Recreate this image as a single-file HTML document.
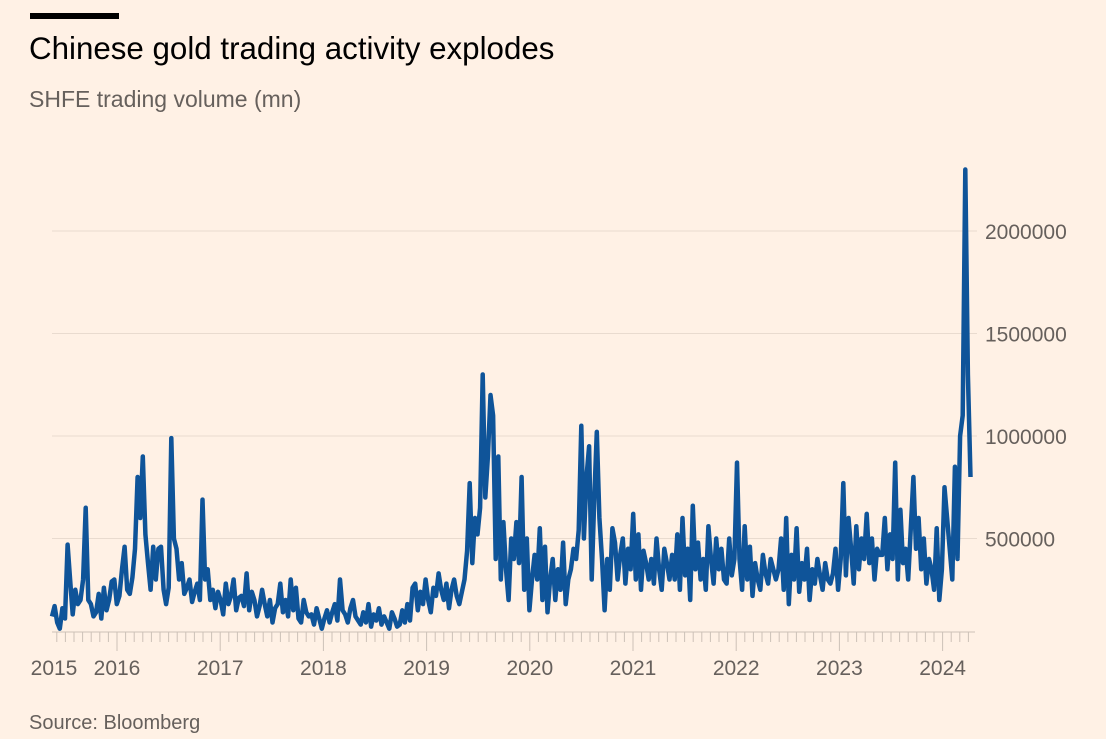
<!DOCTYPE html>
<html><head><meta charset="utf-8"><style>
body{margin:0;background:#fff1e5;font-family:"Liberation Sans",sans-serif;}
#wrap{position:relative;width:1106px;height:739px;overflow:hidden;background:#fff1e5;}
.bar{position:absolute;left:30px;top:13px;width:89px;height:6px;background:#000;}
.title{position:absolute;left:29px;top:31px;font-size:31.3px;color:#000;}
.sub{position:absolute;left:29px;top:86px;font-size:23px;color:#66605c;}
.src{position:absolute;left:29px;top:712px;font-size:20px;color:#66605c;}
</style></head><body>
<div id="wrap">
<div class="bar"></div>
<div class="title">Chinese gold trading activity explodes</div>
<div class="sub">SHFE trading volume (mn)</div>
<svg id="chart" width="1106" height="739" style="position:absolute;left:0;top:0"></svg>
<div class="src">Source: Bloomberg</div>
</div>
<script>
const values=[120,170,90,60,160,110,470,300,130,250,180,200,300,650,200,180,120,140,230,110,
260,150,200,290,300,180,220,350,460,250,230,310,450,800,600,900,520,380,250,460,
300,450,460,250,180,260,990,500,450,300,380,230,260,300,190,240,280,200,690,300,
350,200,250,160,240,200,130,280,180,220,300,150,210,220,170,330,150,240,200,120,
170,250,180,120,200,90,160,180,280,140,200,120,300,150,260,110,90,200,140,120,
130,80,160,110,60,110,150,90,140,180,100,300,150,130,90,160,200,120,100,80,
140,90,180,70,130,100,160,80,120,90,60,140,110,70,80,150,90,180,100,260,
280,150,240,180,300,200,140,260,220,330,250,200,280,160,250,300,220,180,240,300,
440,770,380,600,520,650,1300,700,900,1200,1100,400,900,300,580,350,200,500,400,580,
380,800,250,500,150,300,420,300,550,200,460,140,300,400,200,350,250,480,180,300,
350,450,400,540,1050,500,800,950,300,700,1020,600,400,150,400,250,550,480,300,420,
500,280,450,350,620,300,520,250,440,380,300,400,280,500,350,250,450,380,300,420,
300,520,250,600,320,450,200,660,350,480,300,400,250,560,400,280,500,350,450,300,
280,500,320,400,870,400,250,560,300,460,220,380,300,250,420,330,280,400,350,300,
350,500,250,600,180,420,300,550,240,380,300,450,200,350,280,400,320,250,380,300,
280,330,450,250,400,770,320,600,450,280,560,350,500,400,620,380,500,300,450,420,
420,600,350,520,400,870,300,640,380,450,300,550,800,450,600,350,500,280,400,350,
250,550,200,350,750,600,450,300,850,400,1000,1100,2300,1300,800];
const startYear=2015.37, endYear=2024.27;
const yTicks=[500000,1000000,1500000,2000000];
const yearLabels=[2015,2016,2017,2018,2019,2020,2021,2022,2023,2024];
const NS='http://www.w3.org/2000/svg';
const svg=document.getElementById('chart');
function x(t){return 117+(t-2016)*103.2;}
function y(v){return 641-v*(102.5/500000);}
function mk(tag,attrs){const e=document.createElementNS(NS,tag);for(const k in attrs)e.setAttribute(k,attrs[k]);svg.appendChild(e);return e;}
yTicks.forEach(v=>{
  const g=mk('line',{x1:52,x2:977,y1:y(v),y2:y(v),stroke:'#e9dbcf','stroke-width':1});
  
  
  const t=mk('text',{x:985,y:y(v)+8,'text-anchor':'start','font-size':21,fill:'#66605c','font-family':'Liberation Sans, sans-serif'});
  t.textContent=v;
  
  
});
const ax=mk('line',{x1:52,x2:975,y1:632,y2:632,stroke:'#ccc1b7','stroke-width':1});


for(let m=Math.ceil(startYear*12);m<=endYear*12;m++){
  const t=m/12, isYear=m%12===0;
  const tk=mk('line',{x1:x(t),x2:x(t),y1:632,y2:isYear?651:642,stroke:'#ccc1b7','stroke-width':1});
  
  
}
yearLabels.forEach(yr=>{
  const px=yr===2015?54:x(yr);
  const t=mk('text',{x:px,y:675,'text-anchor':'middle','font-size':21,fill:'#66605c','font-family':'Liberation Sans, sans-serif'});
  t.textContent=yr;
  
  
});
const step=(endYear-startYear)/(values.length-1);
const d=values.map((v,i)=>(i?'L':'M')+x(startYear+i*step).toFixed(1)+','+y(v*1000).toFixed(1)).join(' ');
const p=mk('path',{d:d,fill:'none',stroke:'#0f5499','stroke-width':4.5,'stroke-linejoin':'round'});


</script>
</body></html>
